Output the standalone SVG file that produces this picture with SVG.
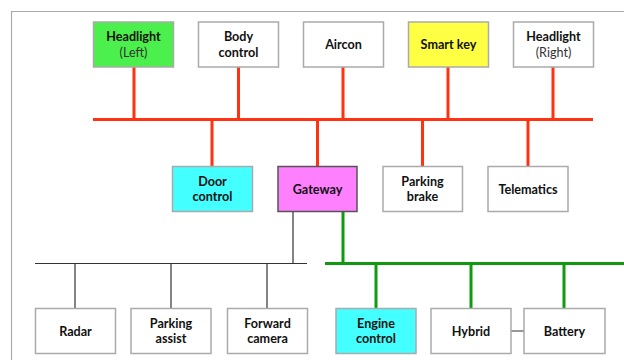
<svg xmlns="http://www.w3.org/2000/svg" width="624" height="360" viewBox="0 0 624 360">
<style>
.b{fill:#fff;stroke:#aaa;stroke-width:1.5}
.t{font-family:Lato,"Open Sans",sans-serif;font-weight:bold;font-size:12.6px;fill:#111;text-anchor:middle}
.s{font-weight:normal;fill:#333}
.r{stroke:#ff3311;stroke-width:3;fill:none}
.g{stroke:#119911;stroke-width:3;fill:none}
.k{stroke:#333;stroke-width:1.2;fill:none}
</style>
<rect width="624" height="360" fill="#fff"/>
<path d="M11.5 370V11.5H630" fill="none" stroke="#aaa" stroke-width="1.2"/>
<g id="connectors">
<path class="r" d="M93 119.5H593M134 67V119.5M238.5 67V119.5M343 67V119.5M448 67V119.5M553 67V119.5M212 119.5V167M317.5 119.5V167M422.5 119.5V167M528 119.5V167"/>
<path class="k" d="M293 211V263.5M35 263.5H307M75 263.5V308M171 263.5V308M267 263.5V308M511 331H524"/>
<path class="g" d="M343 211V263.5M325 263.5H624M376 263.5V308M471 263.5V308M564 263.5V308"/>
</g>
<g id="headlight-left"><rect class="b" x="93.5" y="22" width="80" height="45" style="fill:#4cf04c"/><text class="t" x="133.5" y="40.5">Headlight</text><text class="t s" x="133.5" y="56.5">(Left)</text></g>
<g id="body-control"><rect class="b" x="198.5" y="22" width="80" height="45"/><text class="t" x="238.5" y="40.5">Body</text><text class="t" x="238.5" y="56.5">control</text></g>
<g id="aircon"><rect class="b" x="303.5" y="22" width="80" height="45"/><text class="t" x="343.5" y="48.5">Aircon</text></g>
<g id="smart-key"><rect class="b" x="408.5" y="22" width="80" height="45" style="fill:#ffff44"/><text class="t" x="448.5" y="48.5">Smart key</text></g>
<g id="headlight-right"><rect class="b" x="513.5" y="22" width="80" height="45"/><text class="t" x="553.5" y="40.5">Headlight</text><text class="t s" x="553.5" y="56.5">(Right)</text></g>
<g id="door-control"><rect class="b" x="172.5" y="166.5" width="80" height="45" style="fill:#44ffff"/><text class="t" x="212.5" y="185.5">Door</text><text class="t" x="212.5" y="200.5">control</text></g>
<g id="gateway"><rect class="b" x="278" y="166.5" width="79" height="45" style="fill:#ff80ff;stroke:#555"/><text class="t" x="317.5" y="193.5">Gateway</text></g>
<g id="parking-brake"><rect class="b" x="383" y="166.5" width="79.5" height="45"/><text class="t" x="422.5" y="185.5">Parking</text><text class="t" x="422.5" y="200.5">brake</text></g>
<g id="telematics"><rect class="b" x="488" y="166.5" width="80" height="45"/><text class="t" x="528" y="193.5">Telematics</text></g>
<g id="radar"><rect class="b" x="35.5" y="308.5" width="80" height="45"/><text class="t" x="75.5" y="335.5">Radar</text></g>
<g id="parking-assist"><rect class="b" x="131" y="308.5" width="80" height="45"/><text class="t" x="171" y="327.5">Parking</text><text class="t" x="171" y="342.5">assist</text></g>
<g id="forward-camera"><rect class="b" x="227.5" y="308.5" width="80" height="45"/><text class="t" x="267.5" y="327.5">Forward</text><text class="t" x="267.5" y="342.5">camera</text></g>
<g id="engine-control"><rect class="b" x="336" y="308.5" width="80" height="45" style="fill:#44ffff"/><text class="t" x="376" y="327.5">Engine</text><text class="t" x="376" y="342.5">control</text></g>
<g id="hybrid"><rect class="b" x="431" y="308.5" width="80" height="45"/><text class="t" x="471" y="335.5">Hybrid</text></g>
<g id="battery"><rect class="b" x="524" y="308.5" width="81" height="45"/><text class="t" x="564.5" y="335.5">Battery</text></g>
</svg>
